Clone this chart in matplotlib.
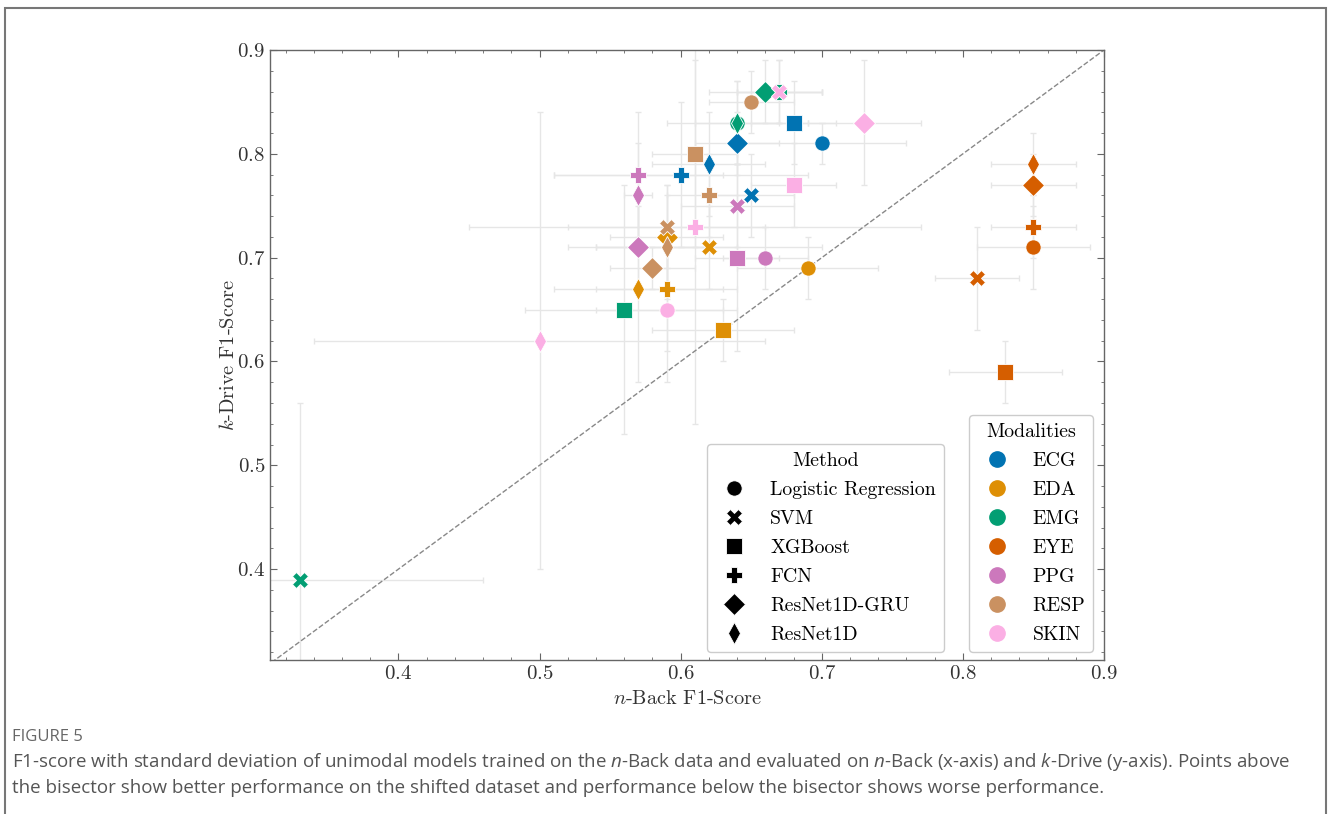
import matplotlib
matplotlib.use("Agg")
import matplotlib.pyplot as plt
from matplotlib.lines import Line2D
from matplotlib.patches import Rectangle
from matplotlib.ticker import MultipleLocator
import numpy as np

plt.rcParams['font.family'] = 'cmr10'
plt.rcParams['mathtext.fontset'] = 'cm'
plt.rcParams['axes.formatter.use_mathtext'] = True
plt.rcParams['mathtext.rm'] = 'Open Sans'
plt.rcParams['mathtext.it'] = 'Open Sans:italic'

# ---------------- data
modalities = ['ECG', 'EDA', 'EMG', 'EYE', 'PPG', 'RESP', 'SKIN']
colors = ['#0173B2', '#DE8F05', '#029E73', '#D55E00', '#CC78BC', '#CA9161', '#FBAFE4']
methods = ['Logistic Regression', 'SVM', 'XGBoost', 'FCN', 'ResNet1D-GRU', 'ResNet1D']
markers = ['o', 'X', 's', 'P', 'D', 'd']

# rows = modality, columns = method (same order as above)
nback_f1 = [
    [0.70, 0.65, 0.68, 0.60, 0.64, 0.62],   # ECG
    [0.69, 0.62, 0.63, 0.59, 0.59, 0.57],   # EDA
    [0.64, 0.33, 0.56, 0.67, 0.66, 0.64],   # EMG
    [0.85, 0.81, 0.83, 0.85, 0.85, 0.85],   # EYE
    [0.66, 0.64, 0.64, 0.57, 0.57, 0.57],   # PPG
    [0.65, 0.59, 0.61, 0.62, 0.58, 0.59],   # RESP
    [0.59, 0.67, 0.68, 0.61, 0.73, 0.50],   # SKIN
]
kdrive_f1 = [
    [0.81, 0.76, 0.83, 0.78, 0.81, 0.79],
    [0.69, 0.71, 0.63, 0.67, 0.72, 0.67],
    [0.83, 0.39, 0.65, 0.86, 0.86, 0.83],
    [0.71, 0.68, 0.59, 0.73, 0.77, 0.79],
    [0.70, 0.75, 0.70, 0.78, 0.71, 0.76],
    [0.85, 0.73, 0.80, 0.76, 0.69, 0.71],
    [0.65, 0.86, 0.77, 0.73, 0.83, 0.62],
]
nback_std = [
    [0.06, 0.03, 0.03, 0.09, 0.03, 0.04],
    [0.05, 0.08, 0.05, 0.05, 0.04, 0.06],
    [0.03, 0.13, 0.07, 0.03, 0.04, 0.05],
    [0.04, 0.03, 0.04, 0.03, 0.03, 0.03],
    [0.03, 0.04, 0.03, 0.06, 0.05, 0.01],
    [0.03, 0.07, 0.03, 0.03, 0.03, 0.05],
    [0.05, 0.03, 0.03, 0.16, 0.04, 0.16],
]
kdrive_std = [
    [0.02, 0.04, 0.04, 0.07, 0.03, 0.05],
    [0.03, 0.04, 0.03, 0.06, 0.05, 0.09],
    [0.04, 0.17, 0.12, 0.03, 0.03, 0.04],
    [0.04, 0.05, 0.03, 0.03, 0.03, 0.03],
    [0.03, 0.04, 0.09, 0.06, 0.04, 0.05],
    [0.03, 0.04, 0.09, 0.04, 0.02, 0.05],
    [0.07, 0.03, 0.04, 0.19, 0.06, 0.22],
]

# ---------------- figure
fig = plt.figure(figsize=(13.33, 8.14), dpi=100)
ax = fig.add_axes([270 / 1333, 154 / 814, 834 / 1333, 610 / 814])

z = 3
for i, mod in enumerate(modalities):
    for j, meth in enumerate(methods):
        ax.errorbar(nback_f1[i][j], kdrive_f1[i][j],
                     xerr=nback_std[i][j], yerr=kdrive_std[i][j],
                     fmt='none', ecolor='#e6e6e6', elinewidth=1.0,
                     capsize=2.5, capthick=1.0, zorder=1)
        ax.plot(nback_f1[i][j], kdrive_f1[i][j], linestyle='none',
                marker=markers[j], color=colors[i], markersize=11,
                markeredgecolor='white', markeredgewidth=0.6, zorder=z)
        z += 0.01

lims = [0.31, 0.9]
ax.plot(lims, lims, linestyle='--', color='#888888', linewidth=1.0, zorder=2)
ax.set_xlim(0.309, 0.9)
ax.set_ylim(0.3125, 0.9)

ax.xaxis.set_major_locator(MultipleLocator(0.1))
ax.yaxis.set_major_locator(MultipleLocator(0.1))
ax.xaxis.set_minor_locator(MultipleLocator(0.02))
ax.yaxis.set_minor_locator(MultipleLocator(0.02))
ax.tick_params(which='both', direction='in', top=True, right=True,
               color='#666666', labelcolor='#333333', labelsize=15)
ax.tick_params(which='major', length=5, width=0.8)
ax.tick_params(which='minor', length=2.5, width=0.6)
for s in ax.spines.values():
    s.set_color('#666666')
    s.set_linewidth(1.0)

ax.set_xlabel(r'$n$-Back F1-Score', fontsize=14.6, color='#333333', labelpad=5)
ax.set_ylabel(r'$k$-Drive F1-Score', fontsize=14.6, color='#333333', labelpad=-1)

# legends
leg_kw = dict(loc='lower right', borderaxespad=0, fontsize=14.3,
              title_fontsize=14.3, handletextpad=0.8, labelspacing=0.56,
              edgecolor='#cccccc', framealpha=1, fancybox=True)
method_handles = [Line2D([], [], linestyle='none', marker=m, color='black',
                         markersize=11, markeredgecolor='white', markeredgewidth=0.6)
                  for m in markers]
leg1 = ax.legend(method_handles, methods, title='Method',
                 bbox_to_anchor=(0.808, 0.013), **leg_kw)
ax.add_artist(leg1)
mod_handles = [Line2D([], [], linestyle='none', marker='o', color=c, markersize=11)
               for c in colors]
ax.legend(mod_handles, modalities, title='Modalities',
          bbox_to_anchor=(0.987, 0.013), **leg_kw)

# outer frame and caption
fig.patches.append(Rectangle((5 / 1333, -0.1), 1321 / 1333, 1.1 - 8 / 814,
                             transform=fig.transFigure, fill=False,
                             edgecolor='#777777', linewidth=1.5))
fig.text(12 / 1333, 1 - 741 / 814, 'FIGURE 5', family='Open Sans',
         fontsize=12, color='#666666', va='baseline')
fig.text(12 / 1333, 1 - 767 / 814,
         r'F1-score with standard deviation of unimodal models trained on the $n$-Back data '
         r'and evaluated on $n$-Back (x-axis) and $k$-Drive (y-axis). Points above',
         family='Open Sans', math_fontfamily='custom', fontsize=13.5,
         color='#555555', va='baseline')
fig.text(12 / 1333, 1 - 793 / 814,
         'the bisector show better performance on the shifted dataset and performance '
         'below the bisector shows worse performance.',
         family='Open Sans', fontsize=13.5, color='#555555', va='baseline')

fig.savefig('out.png', dpi=100)
